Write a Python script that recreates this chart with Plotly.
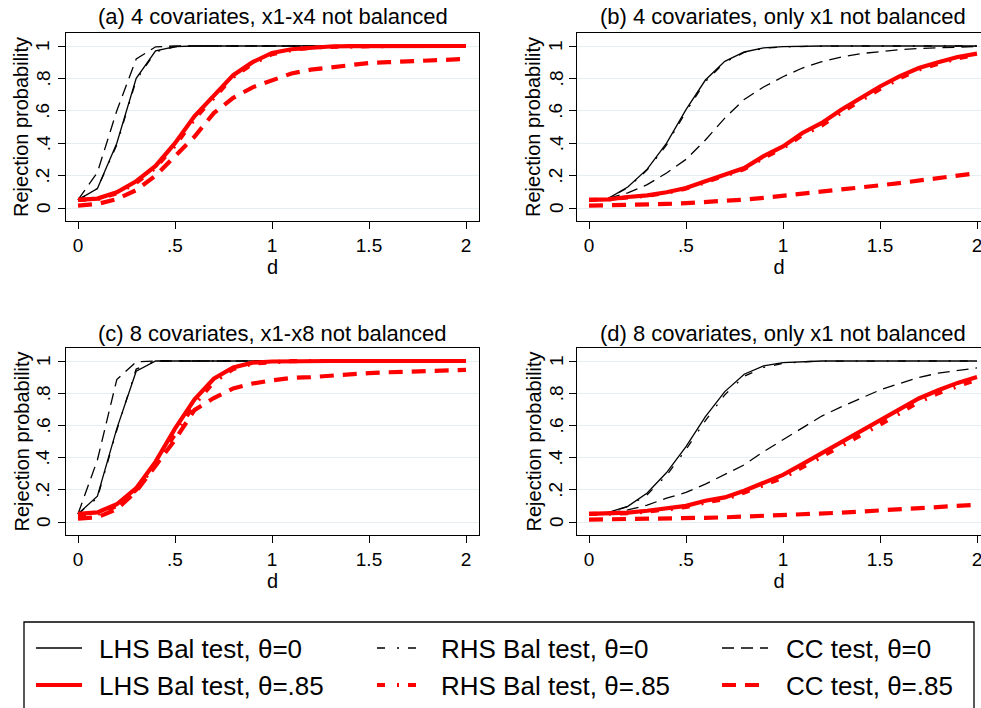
import plotly.graph_objects as go

W, H = 981, 708

# ---------------- data ----------------
d = [0.0, 0.1, 0.2, 0.3, 0.4, 0.5, 0.6, 0.7, 0.8, 0.9, 1.0,
     1.1, 1.2, 1.3, 1.4, 1.5, 1.6, 1.7, 1.8, 1.9, 2.0]

# (a) 4 covariates, x1-x4 not balanced
a_lhs0 = [0.05, 0.12, 0.40, 0.80, 0.97, 0.996, 1, 1, 1, 1, 1, 1, 1, 1, 1, 1, 1, 1, 1, 1, 1]
a_rhs0 = [0.05, 0.12, 0.39, 0.79, 0.965, 0.995, 1, 1, 1, 1, 1, 1, 1, 1, 1, 1, 1, 1, 1, 1, 1]
a_cc0 = [0.05, 0.22, 0.60, 0.92, 0.995, 1, 1, 1, 1, 1, 1, 1, 1, 1, 1, 1, 1, 1, 1, 1, 1]
a_lhs85 = [0.05, 0.058, 0.097, 0.165, 0.26, 0.40, 0.566, 0.69, 0.82, 0.90, 0.957,
           0.98, 0.99, 0.997, 0.999, 1, 1, 1, 1, 1, 1]
a_rhs85 = [0.05, 0.055, 0.09, 0.155, 0.25, 0.385, 0.55, 0.68, 0.81, 0.89, 0.95,
           0.975, 0.99, 0.995, 0.998, 1, 1, 1, 1, 1, 1]
a_cc85 = [0.015, 0.025, 0.055, 0.11, 0.20, 0.32, 0.44, 0.586, 0.68, 0.745, 0.79,
          0.83, 0.854, 0.868, 0.885, 0.895, 0.90, 0.905, 0.91, 0.915, 0.92]

# (b) 4 covariates, only x1 not balanced
b_lhs0 = [0.05, 0.06, 0.13, 0.24, 0.40, 0.607, 0.79, 0.905, 0.963, 0.988, 0.996,
          0.999, 1, 1, 1, 1, 1, 1, 1, 1, 1]
b_rhs0 = [0.05, 0.06, 0.125, 0.235, 0.39, 0.595, 0.78, 0.90, 0.96, 0.986, 0.995,
          0.998, 1, 1, 1, 1, 1, 1, 1, 1, 1]
b_cc0 = [0.05, 0.06, 0.093, 0.144, 0.216, 0.30, 0.42, 0.555, 0.67, 0.747, 0.81,
         0.864, 0.903, 0.932, 0.953, 0.967, 0.977, 0.985, 0.99, 0.994, 0.997]
b_lhs85 = [0.05, 0.053, 0.068, 0.078, 0.097, 0.123, 0.165, 0.206, 0.247, 0.32, 0.38,
           0.463, 0.525, 0.607, 0.68, 0.75, 0.813, 0.864, 0.90, 0.932, 0.953]
b_rhs85 = [0.05, 0.052, 0.066, 0.075, 0.094, 0.12, 0.16, 0.20, 0.24, 0.31, 0.37,
           0.45, 0.51, 0.59, 0.665, 0.735, 0.80, 0.855, 0.89, 0.925, 0.945]
b_cc85 = [0.015, 0.016, 0.018, 0.021, 0.025, 0.03, 0.036, 0.043, 0.052, 0.063, 0.075,
          0.087, 0.10, 0.113, 0.126, 0.14, 0.154, 0.168, 0.182, 0.197, 0.215]

# (c) 8 covariates, x1-x8 not balanced
c_lhs0 = [0.05, 0.16, 0.58, 0.936, 1, 1, 1, 1, 1, 1, 1, 1, 1, 1, 1, 1, 1, 1, 1, 1, 1]
c_rhs0 = [0.05, 0.15, 0.57, 0.95, 1, 1, 1, 1, 1, 1, 1, 1, 1, 1, 1, 1, 1, 1, 1, 1, 1]
c_cc0 = [0.05, 0.385, 0.885, 0.995, 1, 1, 1, 1, 1, 1, 1, 1, 1, 1, 1, 1, 1, 1, 1, 1, 1]
c_lhs85 = [0.05, 0.06, 0.11, 0.21, 0.375, 0.58, 0.76, 0.89, 0.96, 0.99, 0.997,
           1, 1, 1, 1, 1, 1, 1, 1, 1, 1]
c_rhs85 = [0.04, 0.05, 0.10, 0.20, 0.36, 0.55, 0.73, 0.87, 0.95, 0.985, 0.995,
           0.999, 1, 1, 1, 1, 1, 1, 1, 1, 1]
c_cc85 = [0.02, 0.03, 0.08, 0.19, 0.35, 0.51, 0.695, 0.77, 0.83, 0.86, 0.88,
          0.895, 0.90, 0.91, 0.92, 0.925, 0.93, 0.935, 0.94, 0.942, 0.945]

# (d) 8 covariates, only x1 not balanced
d_lhs0 = [0.05, 0.06, 0.097, 0.18, 0.307, 0.468, 0.654, 0.81, 0.918, 0.97, 0.99,
          0.997, 1, 1, 1, 1, 1, 1, 1, 1, 1]
d_rhs0 = [0.05, 0.06, 0.095, 0.17, 0.29, 0.45, 0.63, 0.79, 0.905, 0.96, 0.985,
          0.995, 0.999, 1, 1, 1, 1, 1, 1, 1, 1]
d_cc0 = [0.05, 0.057, 0.075, 0.105, 0.148, 0.184, 0.235, 0.293, 0.355, 0.437, 0.51,
         0.588, 0.658, 0.715, 0.767, 0.82, 0.86, 0.897, 0.925, 0.942, 0.957]
d_lhs85 = [0.05, 0.052, 0.058, 0.07, 0.082, 0.10, 0.132, 0.153, 0.194, 0.241, 0.293,
           0.36, 0.427, 0.50, 0.567, 0.633, 0.70, 0.767, 0.818, 0.864, 0.90]
d_rhs85 = [0.05, 0.05, 0.055, 0.065, 0.078, 0.093, 0.122, 0.142, 0.183, 0.226, 0.275,
           0.34, 0.405, 0.475, 0.54, 0.605, 0.675, 0.745, 0.80, 0.845, 0.885]
d_cc85 = [0.015, 0.016, 0.017, 0.019, 0.021, 0.023, 0.026, 0.029, 0.033, 0.037, 0.041,
          0.046, 0.052, 0.058, 0.065, 0.072, 0.079, 0.086, 0.093, 0.10, 0.107]

panel_titles = ["(a) 4 covariates, x1-x4 not balanced",
                "(b) 4 covariates, only x1 not balanced",
                "(c) 8 covariates, x1-x8 not balanced",
                "(d) 8 covariates, only x1 not balanced"]
series_names = ["LHS Bal test, θ=0", "RHS Bal test, θ=0", "CC test, θ=0",
                "LHS Bal test, θ=.85", "RHS Bal test, θ=.85", "CC test, θ=.85"]
x_tickvals = [0, 0.5, 1, 1.5, 2]
x_ticktext = ["0", ".5", "1", "1.5", "2"]
y_tickvals = [0, 0.2, 0.4, 0.6, 0.8, 1]
y_ticktext = ["0", ".2", ".4", ".6", ".8", "1"]
x_title = "d"
y_title = "Rejection probability"

# ---------------- styles ----------------
FONT = "Liberation Sans, Arial, sans-serif"
styles = [
    dict(color="black", width=1.3, dash="solid"),
    dict(color="black", width=1.3, dash="8px,12px,2px,9px"),
    dict(color="black", width=1.3, dash="12px,7px"),
    dict(color="#ff0000", width=4.2, dash="solid"),
    dict(color="#ff0000", width=4.2, dash="8px,12px,2px,9px"),
    dict(color="#ff0000", width=4.2, dash="14px,9px"),
]

panel_data = [
    [a_lhs0, a_rhs0, a_cc0, a_lhs85, a_rhs85, a_cc85],
    [b_lhs0, b_rhs0, b_cc0, b_lhs85, b_rhs85, b_cc85],
    [c_lhs0, c_rhs0, c_cc0, c_lhs85, c_rhs85, c_cc85],
    [d_lhs0, d_rhs0, d_cc0, d_lhs85, d_rhs85, d_cc85],
]

def px(x):
    return x / W

def py(y):
    return 1 - y / H

left_x = dict(domain=[px(66), px(479)], range=[-12 / 194, 2 + 13 / 194],
              lab_shift=-23, title_shift=-45)
right_x = dict(domain=[px(577), 1.0], range=[-12 / 194, -12 / 194 + 404 / 194],
               lab_shift=-21, title_shift=-44)
top_y = dict(domain=[py(221), py(33)], range=[-13 / 162, 1 + 13 / 162])
bot_y = dict(domain=[py(535), py(348)], range=[-13 / 161, 1 + 13 / 161])

layout_axes = [(left_x, top_y, True), (right_x, top_y, False),
               (left_x, bot_y, True), (right_x, bot_y, False)]

fig = go.Figure()

for i, series in enumerate(panel_data):
    xa = "x" if i == 0 else f"x{i+1}"
    ya = "y" if i == 0 else f"y{i+1}"
    for s, vals in enumerate(series):
        st = styles[s]
        fig.add_trace(go.Scatter(
            x=d, y=vals, mode="lines", name=series_names[s],
            xaxis=xa, yaxis=ya, showlegend=False,
            line=dict(color=st["color"], width=st["width"], dash=st["dash"]),
            hoverinfo="skip"))

layout = dict(
    width=W, height=H,
    margin=dict(l=0, r=0, t=0, b=0),
    paper_bgcolor="white", plot_bgcolor="white",
    font=dict(family=FONT, color="black"),
    showlegend=False,
)

for i, (xd, yd, full) in enumerate(layout_axes):
    xk = "xaxis" if i == 0 else f"xaxis{i+1}"
    yk = "yaxis" if i == 0 else f"yaxis{i+1}"
    ya = "y" if i == 0 else f"y{i+1}"
    xa = "x" if i == 0 else f"x{i+1}"
    layout[xk] = dict(
        domain=xd["domain"], range=xd["range"], anchor=ya,
        tickvals=x_tickvals, ticktext=x_ticktext,
        ticks="outside", ticklen=7, tickwidth=1.2, tickcolor="black",
        showline=True, linecolor="black", linewidth=1.4, mirror=True,
        showgrid=False, zeroline=False, automargin=False,
        ticklabeloverflow="allow",
        tickfont=dict(size=19, family=FONT),
        title=dict(text=x_title, font=dict(size=20, family=FONT), standoff=2),
        fixedrange=True,
    )
    layout[yk] = dict(
        domain=yd["domain"], range=yd["range"], anchor=xa,
        tickvals=y_tickvals, showticklabels=False,
        ticks="outside", ticklen=7, tickwidth=1.2, tickcolor="black",
        showline=True, linecolor="black", linewidth=1.4, mirror=full,
        showgrid=True, gridcolor="#e6eef1", gridwidth=1.2,
        zeroline=False, automargin=False,
        fixedrange=True,
    )

fig.update_layout(**layout)

annotations = []
# rotated y tick labels and y-axis titles (Stata style)
for i, (xd, yd, full) in enumerate(layout_axes):
    xa = "x" if i == 0 else f"x{i+1}"
    ya = "y" if i == 0 else f"y{i+1}"
    for v, t in zip(y_tickvals, y_ticktext):
        annotations.append(dict(
            text=t, xref=f"{xa} domain", yref=ya, x=0, y=v,
            xshift=xd["lab_shift"], xanchor="center", yanchor="middle",
            textangle=-90, showarrow=False,
            font=dict(size=19, family=FONT, color="black")))
    annotations.append(dict(
        text=y_title, xref=f"{xa} domain", yref=f"{ya} domain", x=0, y=0.5,
        xshift=xd["title_shift"], xanchor="center", yanchor="middle",
        textangle=-90, showarrow=False,
        font=dict(size=20, family=FONT, color="black")))

title_pos = [(272.5, 17), (783, 17), (272.5, 333), (783, 333)]
for t, (tx, ty) in zip(panel_titles, title_pos):
    annotations.append(dict(text=t, x=px(tx), y=py(ty), xref="paper", yref="paper",
                            xanchor="center", yanchor="middle", showarrow=False,
                            font=dict(size=22, family=FONT, color="black")))

# legend box (Stata-style 3 columns x 2 rows)
shapes = [dict(type="rect", xref="paper", yref="paper",
               x0=px(24), x1=px(974), y0=py(722), y1=py(622),
               line=dict(color="black", width=1.3), fillcolor="rgba(0,0,0,0)")]
col_line_x = [36, 377, 722]
col_text_x = [97, 439, 784]
row_y = [648, 685]
for s, name in enumerate(series_names):
    row, col = divmod(s, 3)
    st = styles[s]
    x0 = col_line_x[col]
    shapes.append(dict(type="line", xref="paper", yref="paper",
                       x0=px(x0), x1=px(x0 + 46), y0=py(row_y[row]), y1=py(row_y[row]),
                       line=dict(color=st["color"], width=st["width"], dash=st["dash"])))
    annotations.append(dict(text=name, x=px(col_text_x[col]), y=py(row_y[row] + 1),
                            xref="paper", yref="paper", xanchor="left", yanchor="middle",
                            showarrow=False,
                            font=dict(size=26, family=FONT, color="black")))

fig.update_layout(annotations=annotations, shapes=shapes)

fig.write_html("out.html", config={"displayModeBar": False},
               post_script="document.body.style.margin='0';document.body.style.overflow='hidden';")
